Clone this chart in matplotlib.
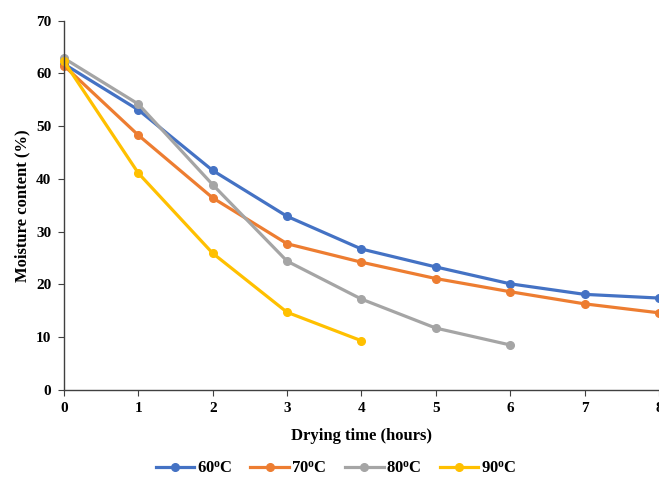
import matplotlib
matplotlib.use("Agg")
import matplotlib.pyplot as plt

plt.rcParams['font.family'] = ['Liberation Serif', 'DejaVu Serif']
plt.rcParams['font.weight'] = 'bold'
plt.rcParams['mathtext.fontset'] = 'custom'
plt.rcParams['mathtext.rm'] = 'Liberation Serif:bold'
plt.rcParams['mathtext.it'] = 'Liberation Serif:bold'
plt.rcParams['mathtext.bf'] = 'Liberation Serif:bold'

xlab = "Drying time (hours)"
ylab = "Moisture content (%)"
fs = 11

t60 = [0, 1, 2, 3, 4, 5, 6, 7, 8]
m60 = [61.8, 53.1, 41.6, 32.9, 26.7, 23.3, 20.1, 18.1, 17.4]
t70 = [0, 1, 2, 3, 4, 5, 6, 7, 8]
m70 = [61.5, 48.3, 36.4, 27.7, 24.2, 21.1, 18.6, 16.3, 14.6]
t80 = [0, 1, 2, 3, 4, 5, 6]
m80 = [62.9, 54.2, 38.9, 24.4, 17.2, 11.7, 8.5]
t90 = [0, 1, 2, 3, 4]
m90 = [62.3, 41.1, 25.9, 14.7, 9.3]

series = [
    (t60, m60, "60$^{\\mathrm{o}}$C", "#4472C4"),
    (t70, m70, "70$^{\\mathrm{o}}$C", "#ED7D31"),
    (t80, m80, "80$^{\\mathrm{o}}$C", "#A5A5A5"),
    (t90, m90, "90$^{\\mathrm{o}}$C", "#FFC000"),
]

fig = plt.figure(figsize=(6.59, 4.83), dpi=100)
ax = fig.add_axes([0.097, 0.193, 0.903, 0.764])
for x, y, lab, c in series:
    ax.plot(x, y, color=c, lw=2.3, marker='o', ms=5.5, label=lab, clip_on=False)

ax.set_xlim(0, 8)
ax.set_ylim(0, 70)
ax.set_xticks(range(0, 9))
ax.set_yticks(range(0, 71, 10))
ax.spines['top'].set_visible(False)
ax.spines['right'].set_visible(False)
for s in ['left', 'bottom']:
    ax.spines[s].set_color('#404040')
    ax.spines[s].set_linewidth(1.0)
ax.tick_params(direction='out', length=4, color='#404040', labelsize=fs, pad=5)
for lbl in ax.get_xticklabels() + ax.get_yticklabels():
    lbl.set_fontweight('bold')
ax.set_xlabel(xlab, fontsize=fs + 1, fontweight='bold', labelpad=9)
ax.set_ylabel(ylab, fontsize=fs + 1, fontweight='bold', labelpad=4)

fig.legend(loc='lower center', bbox_to_anchor=(0.51, -0.01), ncol=4, frameon=False,
           fontsize=fs + 1, handlelength=2.3, columnspacing=1.1, handletextpad=0.15,
           borderpad=0.15)

plt.savefig("out.png", dpi=100)
